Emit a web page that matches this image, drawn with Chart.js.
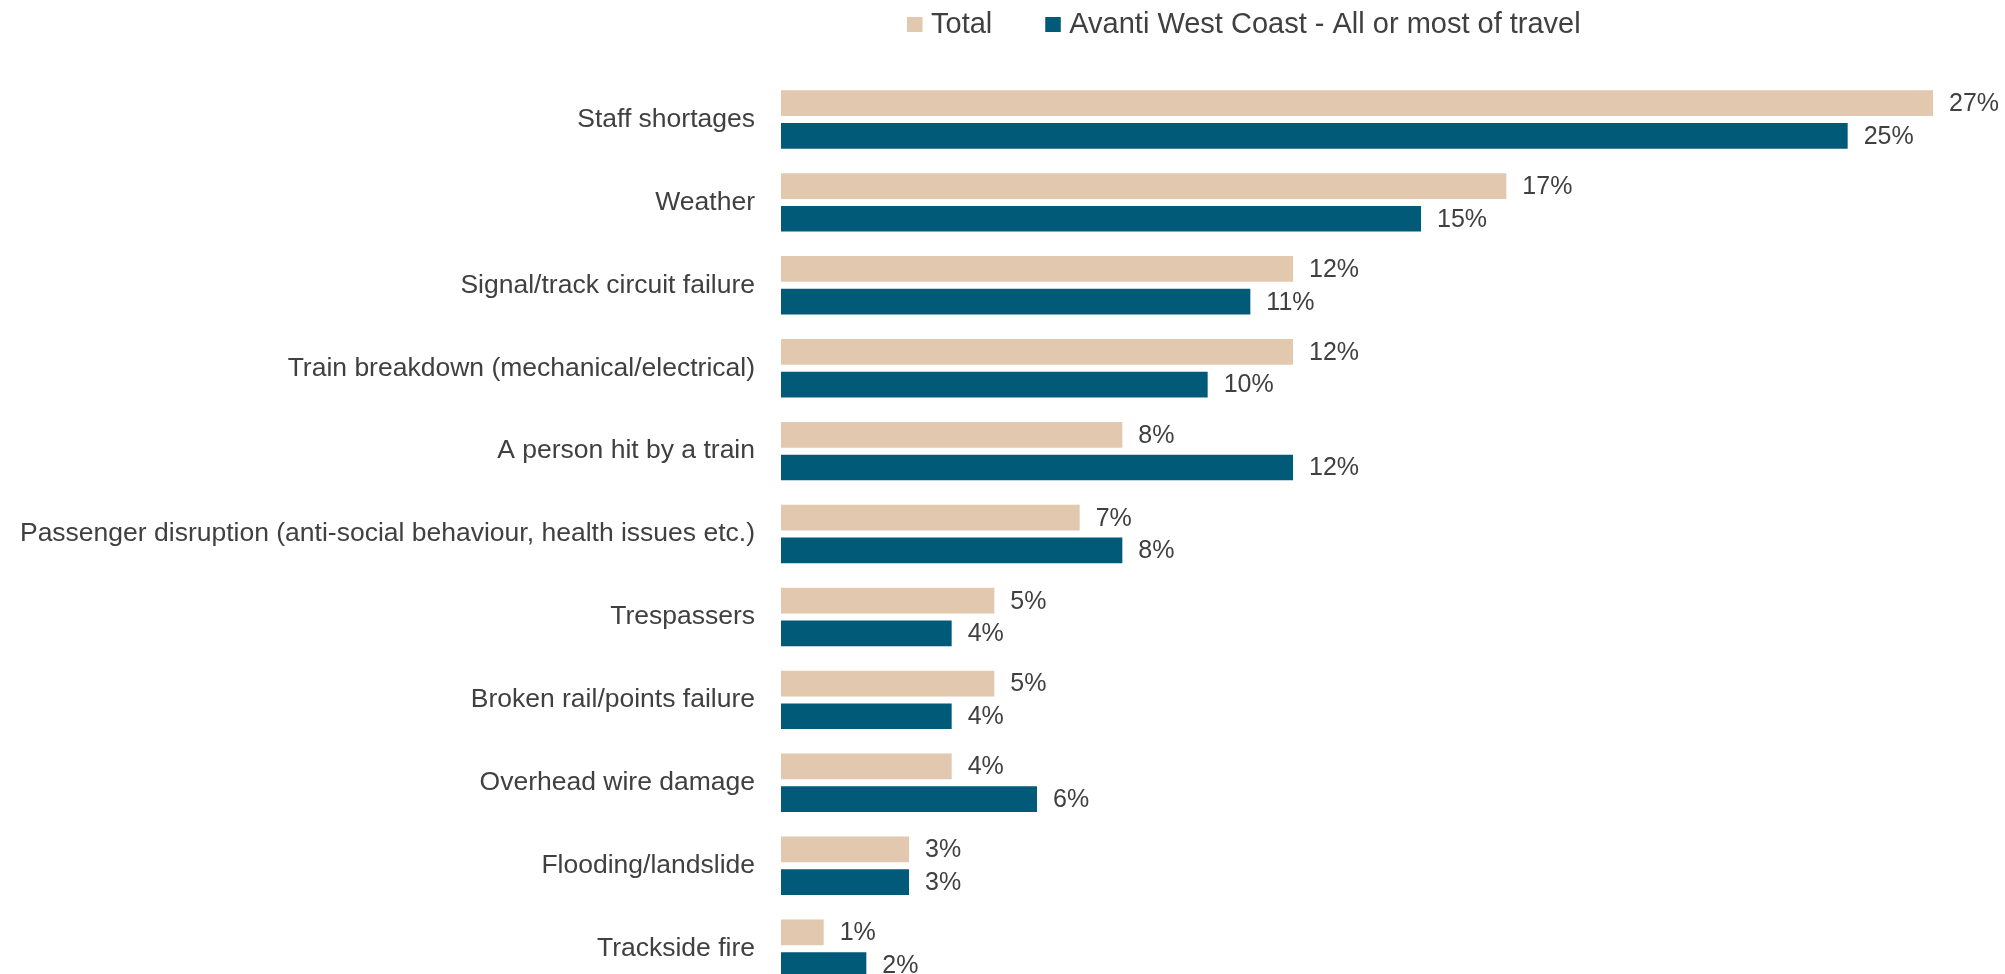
<!DOCTYPE html>
<html>
<head>
<meta charset="utf-8">
<title>Causes of delay</title>
<script src="https://cdn.jsdelivr.net/npm/chart.js@4/dist/chart.umd.min.js"></script>
<style>
  html, body { margin: 0; padding: 0; background: #ffffff; overflow: hidden; }
  canvas { display: block; }
</style>
</head>
<body>
<canvas id="chart" width="2005" height="1032"></canvas>
<script>
// Causes, in display order (top to bottom)
const categories = [
  'Staff shortages',
  'Weather',
  'Signal/track circuit failure',
  'Train breakdown (mechanical/electrical)',
  'A person hit by a train',
  'Passenger disruption (anti-social behaviour, health issues etc.)',
  'Trespassers',
  'Broken rail/points failure',
  'Overhead wire damage',
  'Flooding/landslide',
  'Trackside fire'
];

// Share of respondents (%)
const totalValues  = [27, 17, 12, 12, 8, 7, 5, 5, 4, 3, 1];
const avantiValues = [25, 15, 11, 10, 12, 8, 4, 4, 6, 3, 2];

const seriesNames = ['Total', 'Avanti West Coast - All or most of travel'];
const seriesColors = ['#E2C8AE', '#005A78'];

const TEXT_COLOR = '#404040';
const FONT_FAMILY = 'Arial, "Liberation Sans", Helvetica, sans-serif';

// Percentage labels placed just after the end of each bar
const valueLabels = {
  id: 'valueLabels',
  afterDatasetsDraw(chart) {
    const ctx = chart.ctx;
    ctx.save();
    ctx.font = '25px ' + FONT_FAMILY;
    ctx.fillStyle = TEXT_COLOR;
    ctx.textAlign = 'left';
    ctx.textBaseline = 'middle';
    chart.data.datasets.forEach((ds, di) => {
      const meta = chart.getDatasetMeta(di);
      meta.data.forEach((bar, i) => {
        ctx.fillText(ds.data[i] + '%', bar.x + 16, bar.y + 1);
      });
    });
    ctx.restore();
  }
};

// Legend row across the top, built from the dataset labels and colours
const topLegend = {
  id: 'topLegend',
  afterDraw(chart) {
    const ctx = chart.ctx;
    ctx.save();
    ctx.font = '29px ' + FONT_FAMILY;
    ctx.textBaseline = 'alphabetic';
    ctx.textAlign = 'left';
    let x = 907;
    const gap = 53;
    chart.data.datasets.forEach((ds) => {
      ctx.fillStyle = ds.backgroundColor;
      ctx.fillRect(x, 17, 15.5, 15);
      ctx.fillStyle = TEXT_COLOR;
      const tx = x + 24;
      ctx.fillText(ds.label, tx, 33);
      x = tx + ctx.measureText(ds.label).width + gap;
    });
    ctx.restore();
  }
};

new Chart(document.getElementById('chart'), {
  type: 'bar',
  data: {
    labels: categories,
    datasets: [
      {
        label: seriesNames[0],
        data: totalValues,
        backgroundColor: seriesColors[0],
        categoryPercentage: 0.789,
        barPercentage: 0.786
      },
      {
        label: seriesNames[1],
        data: avantiValues,
        backgroundColor: seriesColors[1],
        categoryPercentage: 0.789,
        barPercentage: 0.786
      }
    ]
  },
  options: {
    indexAxis: 'y',
    responsive: false,
    devicePixelRatio: 1,
    animation: false,
    layout: {
      padding: { top: 78, right: 72, bottom: 10.5, left: 0 }
    },
    plugins: {
      legend: { display: false },
      tooltip: { enabled: false }
    },
    scales: {
      x: {
        display: false,
        min: 0,
        max: 27
      },
      y: {
        grid: { display: false, drawTicks: false },
        border: { display: false },
        ticks: {
          color: TEXT_COLOR,
          font: { family: FONT_FAMILY, size: 26.5 },
          padding: 26
        },
        afterFit(scale) {
          scale.width = 781;
        }
      }
    }
  },
  plugins: [valueLabels, topLegend]
});
</script>
</body>
</html>
